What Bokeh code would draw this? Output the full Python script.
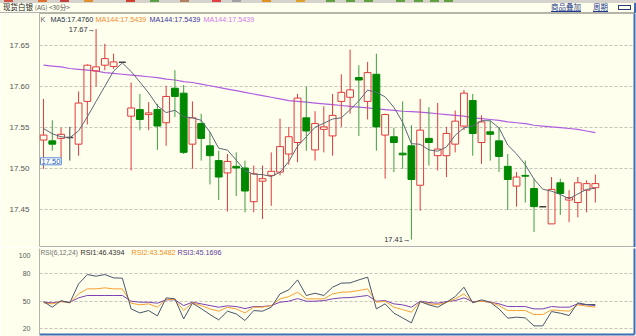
from bokeh.plotting import figure
from bokeh.layouts import column
from bokeh.models import (ColumnDataSource, FixedTicker, Label, Range1d,
                          NumeralTickFormatter, LinearAxis, Div)
from bokeh.embed import file_html
from bokeh.resources import INLINE
import pandas as pd

# ---------------- data ----------------
opens = [17.535, 17.534, 17.537, 17.538, 17.530, 17.582, 17.619, 17.626, 17.6245, 17.6297,
         17.564, 17.572, 17.566, 17.572, 17.556, 17.598, 17.592, 17.530, 17.555, 17.528,
         17.510, 17.495, 17.503, 17.501, 17.460, 17.485, 17.492, 17.496, 17.518, 17.532,
         17.562, 17.523, 17.548, 17.540, 17.582, 17.587, 17.611, 17.582, 17.615, 17.541,
         17.539, 17.519, 17.528, 17.480, 17.537, 17.516, 17.516, 17.530, 17.552, 17.583,
         17.532, 17.545, 17.534, 17.503, 17.479, 17.492, 17.476, 17.454, 17.433, 17.483,
         17.462, 17.459, 17.474, 17.477]
highs = [17.585, 17.559, 17.550, 17.551, 17.594, 17.627, 17.670, 17.652, 17.640, 17.6297,
         17.605, 17.591, 17.581, 17.579, 17.601, 17.620, 17.602, 17.582, 17.567, 17.545,
         17.522, 17.518, 17.520, 17.510, 17.504, 17.504, 17.520, 17.561, 17.551, 17.591,
         17.600, 17.570, 17.576, 17.591, 17.615, 17.645, 17.626, 17.630, 17.640, 17.567,
         17.550, 17.582, 17.553, 17.585, 17.575, 17.580, 17.551, 17.571, 17.596, 17.591,
         17.565, 17.559, 17.551, 17.518, 17.496, 17.510, 17.488, 17.454, 17.490, 17.488,
         17.474, 17.490, 17.486, 17.493]
lows = [17.500, 17.522, 17.512, 17.510, 17.516, 17.554, 17.600, 17.620, 17.6216, 17.6297,
        17.498, 17.547, 17.547, 17.523, 17.528, 17.563, 17.518, 17.500, 17.510, 17.481,
        17.462, 17.448, 17.467, 17.447, 17.447, 17.439, 17.455, 17.492, 17.505, 17.508,
        17.522, 17.510, 17.520, 17.516, 17.551, 17.567, 17.540, 17.560, 17.522, 17.488,
        17.496, 17.500, 17.414, 17.449, 17.504, 17.498, 17.490, 17.520, 17.547, 17.516,
        17.506, 17.510, 17.496, 17.450, 17.454, 17.459, 17.423, 17.454, 17.433, 17.444,
        17.435, 17.441, 17.447, 17.459]
closes = [17.541, 17.530, 17.542, 17.538, 17.580, 17.626, 17.624, 17.634, 17.630, 17.6297,
          17.574, 17.560, 17.568, 17.552, 17.588, 17.588, 17.520, 17.562, 17.537, 17.516,
          17.490, 17.509, 17.501, 17.473, 17.494, 17.488, 17.497, 17.527, 17.539, 17.586,
          17.546, 17.555, 17.551, 17.565, 17.593, 17.596, 17.608, 17.617, 17.551, 17.566,
          17.532, 17.517, 17.487, 17.547, 17.532, 17.524, 17.543, 17.558, 17.592, 17.543,
          17.557, 17.542, 17.515, 17.487, 17.490, 17.491, 17.454, 17.454, 17.475, 17.470,
          17.465, 17.483, 17.482, 17.482]
ma144 = [17.626, 17.625, 17.624, 17.622, 17.621, 17.620, 17.619, 17.617, 17.616, 17.615,
         17.614, 17.613, 17.612, 17.611, 17.609, 17.608, 17.606, 17.605, 17.603, 17.601,
         17.599, 17.597, 17.595, 17.593, 17.591, 17.589, 17.587, 17.585, 17.583, 17.582,
         17.581, 17.580, 17.579, 17.578, 17.577, 17.576, 17.575, 17.574, 17.573, 17.572,
         17.571, 17.570, 17.5695, 17.569, 17.568, 17.567, 17.566, 17.565, 17.564, 17.562,
         17.561, 17.560, 17.559, 17.557, 17.556, 17.555, 17.553, 17.552, 17.551, 17.550,
         17.549, 17.548, 17.546, 17.544]
ma5_head = [17.549, 17.5426, 17.539, 17.5377]
rsi1 = [49.6, 43.4, 50.7, 48.2, 69.1, 79.4, 77.6, 79.4, 75.7, 75.4,
        41.5, 37.1, 39.7, 33.8, 53.7, 52.6, 30.5, 47.8, 41.9, 35.3,
        29.4, 39.0, 36.0, 28.7, 39.7, 39.0, 43.4, 58.1, 62.5, 73.5,
        56.3, 58.8, 56.3, 65.4, 69.9, 70.2, 73.5, 76.5, 41.5, 47.1,
        36.8, 31.6, 26.1, 49.6, 46.0, 43.4, 48.9, 55.1, 65.4, 48.2,
        51.5, 48.9, 41.5, 31.3, 32.4, 31.6, 22.8, 22.8, 38.6, 36.8,
        34.2, 48.2, 46.3, 46.4]
rsi2 = [48.2, 47.1, 49.6, 48.2, 58.1, 63.6, 63.6, 64.7, 63.6, 63.6,
        47.8, 46.0, 47.1, 43.4, 52.2, 51.8, 39.7, 48.2, 45.2, 41.5,
        39.0, 43.4, 41.5, 37.1, 43.4, 43.4, 45.2, 52.6, 55.1, 59.9,
        52.6, 52.6, 52.6, 58.1, 59.9, 60.3, 61.8, 63.6, 48.9, 50.0,
        43.4, 40.8, 37.9, 49.6, 47.1, 46.3, 48.5, 52.6, 58.1, 48.9,
        50.0, 48.9, 45.2, 39.7, 39.7, 39.7, 35.3, 35.3, 40.4, 39.7,
        39.0, 46.0, 44.5, 43.5]
rsi3 = [48.9, 48.2, 49.6, 48.9, 53.7, 56.3, 56.3, 56.3, 56.3, 56.3,
        50.0, 48.9, 48.9, 47.8, 51.5, 51.5, 45.2, 48.9, 47.1, 45.2,
        43.4, 44.9, 44.1, 41.9, 44.1, 44.1, 45.2, 48.9, 50.0, 52.9,
        50.0, 50.0, 50.7, 52.6, 53.7, 54.0, 55.1, 56.3, 50.0, 50.7,
        47.1, 46.0, 43.4, 50.0, 48.5, 47.8, 49.6, 50.7, 53.7, 49.6,
        50.0, 48.9, 47.1, 44.1, 44.1, 44.1, 41.5, 41.5, 44.1, 43.4,
        43.4, 47.1, 46.0, 45.2]
price_ticks = [17.45, 17.50, 17.55, 17.60, 17.65]
rsi_ticks = [20, 50, 80, 100]
rsi_grid = [20, 50, 80]
ma5_label = 17.4760
ma144_label = 17.5439
rsi_labels = [46.4394, 43.5482, 45.1696]
marker_price = 17.50

# ---------------- styling ----------------
CREAM = "#FFFFEE"
RED = "#E03A3A"
GREEN = "#008800"
GREEN_WICK = "#3E9E3E"
DOJI = "#404040"
GRID = "#C4C4BC"
SEP = "#B4B4A8"
BLUE = "#3F6DB5"
FONT = "Liberation Sans"
CJK = "Noto Sans CJK SC"

n = len(closes)
df = pd.DataFrame(dict(i=list(range(n)), o=opens, h=highs, l=lows, c=closes))
df["top"] = df[["o", "c"]].max(axis=1)
df["bot"] = df[["o", "c"]].min(axis=1)
HALF = 0.39
df["xl"] = df["i"] - HALF
df["xr"] = df["i"] + HALF
up = ColumnDataSource(df[df.c > df.o])
dn = ColumnDataSource(df[df.c < df.o])
dj = ColumnDataSource(df[df.c == df.o])

ma5 = pd.Series(closes).rolling(5).mean()
ma5.iloc[:4] = ma5_head
lines = ColumnDataSource(dict(i=list(range(n)), ma5=list(ma5), ma144=ma144,
                              r1=rsi1, r2=rsi2, r3=rsi3))

x_rng = Range1d(-0.46, 67.47)


def blank_axis(color, width):
    return LinearAxis(ticker=FixedTicker(ticks=[]), axis_line_color=color,
                      axis_line_width=width, major_tick_line_color=None,
                      minor_tick_line_color=None, major_label_text_font_size="0px")


# ---------------- title strip (HTML) ----------------
icon_x = [4, 38, 60, 84, 126, 150, 180, 212, 232, 262, 296, 326, 346, 364, 396, 414, 430, 444]
icon_c = ["#D05040", "#E07030", "#C04040", "#E09030", "#D04030", "#58A040", "#B08060",
          "#E04040", "#A0A0A0", "#E09020", "#E0A030", "#60A040", "#60A040", "#60A040",
          "#60A040", "#60A040", "#60A040", "#60A040"]
icons = "".join(
    f'<div style="position:absolute;left:{x}px;top:0;width:9px;height:2px;background:{c}"></div>'
    for x, c in zip(icon_x, icon_c))
span = "position:absolute;top:2px;line-height:10px;white-space:nowrap;font-family:'Noto Sans CJK SC'"
title_html = (
    f'<div style="position:relative;width:636px;height:13px;background:{CREAM};overflow:hidden;margin:0;padding:0">'
    f'<div style="position:absolute;left:0;top:0;width:636px;height:3px;background:#D6D3CC"></div>'
    f'{icons}'
    f'<span style="{span};left:3px;font-size:7.5px;color:#202020">现货白银 '
    f'<span style="font-size:6.5px;color:#505050">(AG) &lt;30分&gt;</span></span>'
    f'<span style="{span};left:551px;font-size:7.5px;color:#1E3A8C;text-decoration:underline">商品叠加</span>'
    f'<span style="{span};left:593px;font-size:7.5px;color:#1E3A8C;text-decoration:underline">周期</span>'
    f'<div style="position:absolute;left:618px;top:5px;width:13px;height:5px;border:1px solid #2A3A7A"></div>'
    f'<div style="position:absolute;left:0;top:12px;width:636px;height:1px;background:{SEP}"></div>'
    f'<div style="position:absolute;left:634px;top:3px;width:2px;height:10px;background:{BLUE}"></div>'
    f'</div>')
p0 = Div(text=title_html, width=636, height=13, margin=(0, 0, 0, 0))

# ---------------- price panel ----------------
p1 = figure(width=636, height=234, x_range=x_rng, y_range=Range1d(17.4043, 17.6889),
            x_axis_location=None, output_backend="svg", toolbar_location=None, tools="",
            min_border_left=39, min_border_right=2, min_border_top=0, min_border_bottom=0)
p1.background_fill_color = CREAM
p1.border_fill_color = CREAM
p1.outline_line_color = SEP
p1.xgrid.visible = False
p1.ygrid.ticker = FixedTicker(ticks=price_ticks)
p1.ygrid.grid_line_color = GRID
p1.ygrid.grid_line_dash = "3 2"
ax = p1.yaxis[0]
ax.ticker = FixedTicker(ticks=price_ticks)
ax.formatter = NumeralTickFormatter(format="0.00")
ax.axis_line_color = None
ax.major_tick_line_color = None
ax.minor_tick_line_color = None
ax.major_label_text_font = FONT
ax.major_label_text_font_size = "8px"
ax.major_label_text_color = "#555555"
ax.major_label_standoff = 4
p1.add_layout(blank_axis(BLUE, 2), "right")

p1.line("i", "ma144", source=lines, color="#B05EE0", line_width=1.2)

for src, col in ((up, RED), (dn, GREEN_WICK)):
    p1.segment("i", "top", "i", "h", source=src, color=col, line_width=1)
    p1.segment("i", "l", "i", "bot", source=src, color=col, line_width=1)
p1.segment("i", "l", "i", "h", source=dj, color=DOJI, line_width=1)
p1.vbar(x="i", top="top", bottom="bot", width=2 * HALF, source=up,
        fill_alpha=0, line_color=RED, line_width=1)
p1.vbar(x="i", top="top", bottom="bot", width=2 * HALF, source=dn,
        fill_color=GREEN, line_color=GREEN, line_width=1)
p1.segment("xl", "c", "xr", "c", source=dj, color=DOJI, line_width=1.5)

p1.line("i", "ma5", source=lines, color="#5C6878", line_width=1)

X0 = x_rng.start
Y1 = p1.y_range.end


def lab(fig, ytop, xoff, yoff, text, color, size="7.2px", font=FONT, **kw):
    fig.add_layout(Label(x=X0, y=ytop, x_offset=xoff, y_offset=yoff, text=text,
                         text_color=color, text_font=font, text_font_size=size,
                         text_baseline="middle", **kw))


# legend row
lab(p1, Y1, 1, -6, "K", "#606060")
lab(p1, Y1, 11, -6, f"MA5:{ma5_label:.4f}", "#24324A")
lab(p1, Y1, 56, -6, f"MA144:{ma144_label:.4f}", "#F08A2A")
lab(p1, Y1, 110, -6, f"MA144:{ma144_label:.4f}", "#3A32A0")
lab(p1, Y1, 164, -6, f"MA144:{ma144_label:.4f}", "#D27AE8")

# high / low markers
imax = int(df.h.idxmax())
imin = int(df.l.idxmin())
p1.add_layout(Label(x=imax, y=df.h[imax], x_offset=-1, text=f"{df.h[imax]:.2f}→",
                    text_align="right", text_baseline="middle", text_font=FONT,
                    text_font_size="7.5px", text_color="#303040"))
p1.add_layout(Label(x=imin, y=df.l[imin], x_offset=-1, text=f"{df.l[imin]:.2f}→",
                    text_align="right", text_baseline="middle", text_font=FONT,
                    text_font_size="7.5px", text_color="#303040"))
p1.add_layout(Label(x=0, y=marker_price, x_offset=-3, y_offset=4, text=f"{marker_price:.2f}",
                    text_align="left", text_baseline="bottom", text_font=FONT,
                    text_font_size="7.5px", text_color="#2A5CB8",
                    border_line_color="#5A8AD8", background_fill_color="#FFFFFF",
                    padding=1))

# ---------------- RSI panel ----------------
p2 = figure(width=636, height=89, x_range=x_rng, y_range=Range1d(13.3, 108.1),
            x_axis_location=None, output_backend="svg", toolbar_location=None, tools="",
            min_border_left=39, min_border_right=2, min_border_top=1, min_border_bottom=2)
p2.background_fill_color = CREAM
p2.border_fill_color = CREAM
p2.outline_line_color = None
p2.xgrid.visible = False
p2.ygrid.ticker = FixedTicker(ticks=rsi_grid)
p2.ygrid.grid_line_color = GRID
p2.ygrid.grid_line_dash = "3 2"
a2 = p2.yaxis[0]
a2.ticker = FixedTicker(ticks=rsi_ticks)
a2.axis_line_color = SEP
a2.major_tick_line_color = None
a2.minor_tick_line_color = None
a2.major_label_text_font = FONT
a2.major_label_text_font_size = "7px"
a2.major_label_text_color = "#555555"
a2.major_label_standoff = 3
p2.add_layout(blank_axis(BLUE, 2), "right")
p2.add_layout(blank_axis(BLUE, 2), "below")

p2.line("i", "r3", source=lines, color="#7A40B4", line_width=1)
p2.line("i", "r2", source=lines, color="#F5A030", line_width=1)
p2.line("i", "r1", source=lines, color="#48566A", line_width=1)

Y2 = p2.y_range.end
lab(p2, Y2, 1, -4, "RSI(6,12,24)", "#707070", size="6.6px")
lab(p2, Y2, 41, -4, f"RSI1:{rsi_labels[0]:.4f}", "#303030")
lab(p2, Y2, 92, -4, f"RSI2:{rsi_labels[1]:.4f}", "#F09020")
lab(p2, Y2, 138, -4, f"RSI3:{rsi_labels[2]:.4f}", "#6040A0")

layout = column(p0, p1, p2, spacing=0)
open("out.html", "w").write(file_html(layout, INLINE))
